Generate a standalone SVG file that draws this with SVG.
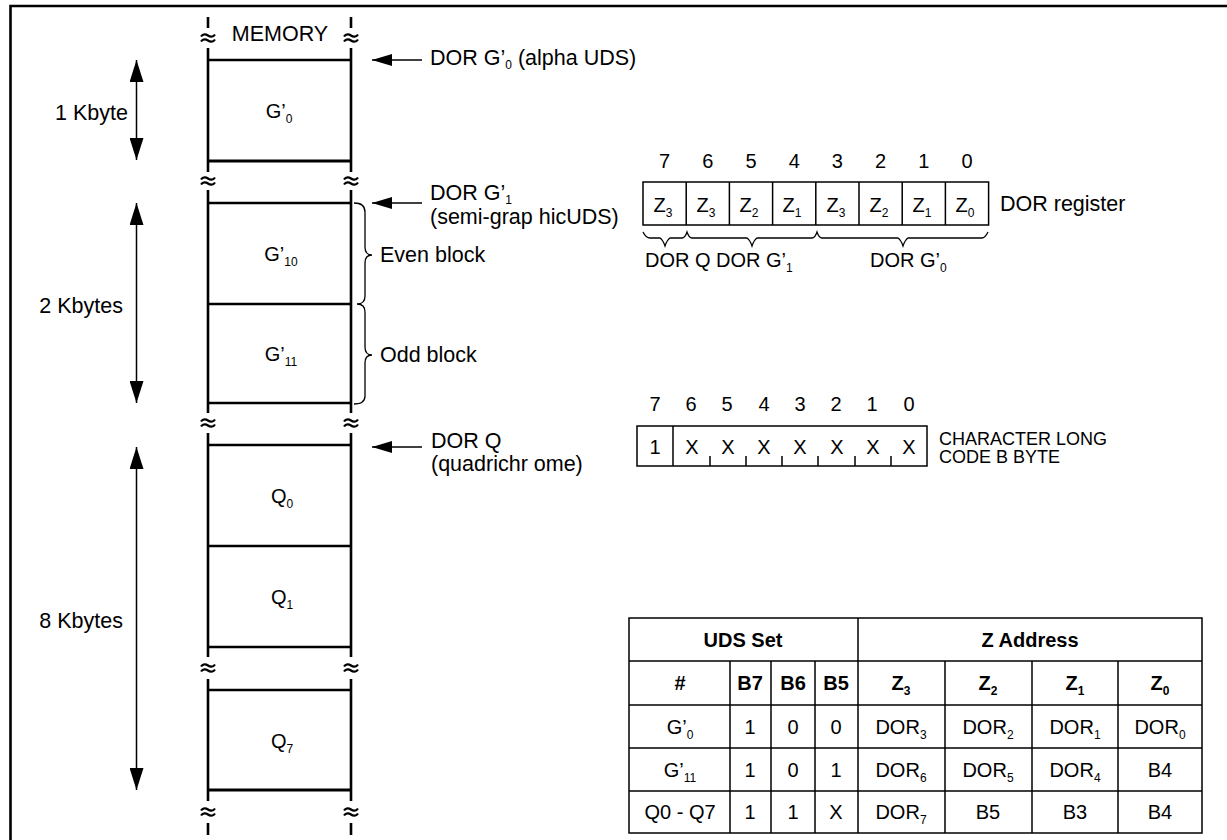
<svg xmlns="http://www.w3.org/2000/svg" xmlns:xlink="http://www.w3.org/1999/xlink" width="1227" height="840" viewBox="0 0 1227 840">
<style>
text{font-family:"Liberation Sans",Arial,sans-serif;font-size:20px;fill:#000}
.L{font-size:21.5px}
.c{text-anchor:middle}
.e{text-anchor:end}
.b{font-weight:bold}
.s{font-size:12px}
.sm{font-size:18px}
.mem{stroke:#000;stroke-width:2.6;fill:none}
.thin{stroke:#000;stroke-width:1.5;fill:none}
.br{stroke:#000;stroke-width:1.3;fill:none}
.tb{stroke:#000;stroke-width:1.5;fill:none}
</style>
<defs>
<g id="brk"><path d="M-7,-1.5 C-5,-4.5 -2,-4 0,-2.5 S5,-0.5 7,-3.5" stroke="#000" stroke-width="2.2" fill="none"/><path d="M-7,3.5 C-5,0.5 -2,1 0,2.5 S5,4.5 7,1.5" stroke="#000" stroke-width="2.2" fill="none"/></g>
<marker id="ah" viewBox="0 0 20 12" refX="20" refY="6" markerWidth="20" markerHeight="12" markerUnits="userSpaceOnUse" orient="auto"><path d="M0,0 L20,6 L0,12 Z" fill="#000"/></marker>
<marker id="ahv" viewBox="0 0 22 14" refX="22" refY="7" markerWidth="22" markerHeight="14" markerUnits="userSpaceOnUse" orient="auto-start-reverse"><path d="M0,0 L22,7 L0,14 Z" fill="#000"/></marker>
</defs>
<rect width="1227" height="840" fill="#fff"/>
<!-- frame -->
<path d="M10.5,840 V6 H1227" stroke="#000" stroke-width="2.6" fill="none"/>

<g id="memory">
<path class="mem" d="M208,17 V28 M208,48 V172 M208,190 V413 M208,433 V657 M208,679 V801 M208,823 V835"/>
<path class="mem" d="M351,17 V28 M351,48 V172 M351,190 V413 M351,433 V657 M351,679 V801 M351,823 V835"/>
<use xlink:href="#brk" x="208" y="38"/><use xlink:href="#brk" x="351" y="38"/>
<use xlink:href="#brk" x="208" y="181"/><use xlink:href="#brk" x="351" y="181"/>
<use xlink:href="#brk" x="208" y="423"/><use xlink:href="#brk" x="351" y="423"/>
<use xlink:href="#brk" x="208" y="668"/><use xlink:href="#brk" x="351" y="668"/>
<use xlink:href="#brk" x="208" y="812"/><use xlink:href="#brk" x="351" y="812"/>
<text class="c L" x="280" y="41">MEMORY</text>
</g>
<g id="g0">
<path class="mem" d="M208,60 H351"/><path d="M208,161 H351" stroke="#000" stroke-width="3.2"/>
<text class="c" x="279" y="118">G’<tspan class="s" dy="5">0</tspan></text>
</g>
<g id="g10">
<path class="mem" d="M208,203 H351 M208,304 H351"/>
<text class="c" x="281" y="261">G’<tspan class="s" dy="5">10</tspan></text>
</g>
<g id="g11">
<path class="mem" d="M208,403 H351"/>
<text class="c" x="281" y="361">G’<tspan class="s" dy="5">11</tspan></text>
</g>
<g id="q0">
<path class="mem" d="M208,445 H351 M208,546 H351"/>
<text class="c" x="282" y="503">Q<tspan class="s" dy="5">0</tspan></text>
</g>
<g id="q1">
<path class="mem" d="M208,647 H351"/>
<text class="c" x="282" y="604">Q<tspan class="s" dy="5">1</tspan></text>
</g>
<g id="q7">
<path class="mem" d="M208,690 H351"/><path d="M208,790 H351" stroke="#000" stroke-width="3.2"/>
<text class="c" x="282" y="748">Q<tspan class="s" dy="5">7</tspan></text>
</g>

<g id="size-labels">
<text class="e L" x="128" y="120">1 Kbyte</text>
<text class="e L" x="123" y="313">2 Kbytes</text>
<text class="e L" x="123" y="628">8 Kbytes</text>
</g>

<g id="pointer-labels">
<text class="L" x="430" y="65">DOR G’<tspan class="s" dy="4">0</tspan><tspan dy="-4"> (alpha UDS)</tspan></text>
<text class="L" x="430" y="200">DOR G’<tspan class="s" dy="4">1</tspan></text>
<text class="L" x="430" y="224">(semi-grap hicUDS)</text>
<text class="L" x="431" y="448">DOR Q</text>
<text class="L" x="431" y="471">(quadrichr ome)</text>
<text class="L" x="380" y="262">Even block</text>
<text class="L" x="380" y="362">Odd block</text>
</g>

<g id="connectors">
<path class="thin" marker-start="url(#ahv)" marker-end="url(#ahv)" d="M136.5,60 V160"/>
<path class="thin" marker-start="url(#ahv)" marker-end="url(#ahv)" d="M136.5,203 V403"/>
<path class="thin" marker-start="url(#ahv)" marker-end="url(#ahv)" d="M136.5,447 V790"/>
<path class="thin" marker-end="url(#ah)" d="M422,60 H372"/>
<path class="thin" marker-end="url(#ah)" d="M422,203 H372"/>
<path class="thin" marker-end="url(#ah)" d="M422,447 H372"/>
<path class="br" d="M354,203 Q365,203 365,212 L365,247 Q365,255 372,255 Q365,255 365,263 L365,296 Q365,304 357,304 Q365,304 365,312 L365,347 Q365,355 372,355 Q365,355 365,363 L365,396 Q365,404 354,404"/>
<path class="br" d="M643,232 Q646,238 650,238 L660,238 Q663,240 665,246 Q667,240 670,238 L682,238 Q685,238 687,232 Q689,238 692,238 L747,238 Q750,240 752,246 Q754,240 757,238 L812,238 Q815,238 817,232 Q819,238 822,238 L898,238 Q901,240 903,246 Q905,240 908,238 L982,238 Q985,238 988,232"/>
</g>

<g id="dor-register">
<rect class="tb" x="643" y="182" width="345.6" height="43"/>
<path class="tb" d="M686.2,182 V225 M729.4,182 V225 M772.6,182 V225 M815.8,182 V225 M859,182 V225 M902.2,182 V225 M945.4,182 V225"/>
<text class="c" x="664.6" y="168">7</text><text class="c" x="707.8" y="168">6</text><text class="c" x="751" y="168">5</text><text class="c" x="794.2" y="168">4</text>
<text class="c" x="837.4" y="168">3</text><text class="c" x="880.6" y="168">2</text><text class="c" x="923.8" y="168">1</text><text class="c" x="967" y="168">0</text>
<text class="c" x="663" y="212">Z<tspan class="s" dy="5">3</tspan></text>
<text class="c" x="706" y="212">Z<tspan class="s" dy="5">3</tspan></text>
<text class="c" x="749" y="212">Z<tspan class="s" dy="5">2</tspan></text>
<text class="c" x="792" y="212">Z<tspan class="s" dy="5">1</tspan></text>
<text class="c" x="836" y="212">Z<tspan class="s" dy="5">3</tspan></text>
<text class="c" x="879" y="212">Z<tspan class="s" dy="5">2</tspan></text>
<text class="c" x="922" y="212">Z<tspan class="s" dy="5">1</tspan></text>
<text class="c" x="965" y="212">Z<tspan class="s" dy="5">0</tspan></text>
<text class="L" x="1000" y="211">DOR register</text>
<text x="645" y="267">DOR Q</text>
<text x="716" y="267">DOR G’<tspan class="s" dy="5">1</tspan></text>
<text x="870" y="267">DOR G’<tspan class="s" dy="5">0</tspan></text>
</g>

<g id="byte-b">
<rect class="tb" x="637" y="426" width="290" height="40"/>
<path class="tb" d="M673,426 V466 M710,456 V466 M746,456 V466 M782,456 V466 M818,456 V466 M855,456 V466 M891,456 V466"/>
<text class="c" x="655" y="411">7</text><text class="c" x="691" y="411">6</text><text class="c" x="727" y="411">5</text><text class="c" x="764" y="411">4</text>
<text class="c" x="800" y="411">3</text><text class="c" x="836" y="411">2</text><text class="c" x="872" y="411">1</text><text class="c" x="909" y="411">0</text>
<text class="c" x="655" y="454">1</text><text class="c" x="692" y="454">X</text><text class="c" x="728" y="454">X</text><text class="c" x="764" y="454">X</text>
<text class="c" x="800" y="454">X</text><text class="c" x="837" y="454">X</text><text class="c" x="873" y="454">X</text><text class="c" x="909" y="454">X</text>
<text class="sm" x="939" y="445">CHARACTER LONG</text>
<text class="sm" x="939" y="463">CODE B BYTE</text>
</g>

<g id="table">
<rect class="tb" x="629" y="618" width="573" height="215"/>
<path class="tb" d="M629,661 H1202 M629,705 H1202 M629,748 H1202 M629,791 H1202"/>
<path class="tb" d="M858,618 V833 M730,661 V833 M771,661 V833 M815,661 V833 M945,661 V833 M1032,661 V833 M1118,661 V833"/>
<text class="c b" x="743" y="647">UDS Set</text>
<text class="c b" x="1030" y="647">Z Address</text>
<text class="c b" x="680" y="690">#</text>
<text class="c b" x="750" y="690">B7</text>
<text class="c b" x="793" y="690">B6</text>
<text class="c b" x="836" y="690">B5</text>
<text class="c b" x="901" y="690">Z<tspan class="s" dy="5">3</tspan></text>
<text class="c b" x="988" y="690">Z<tspan class="s" dy="5">2</tspan></text>
<text class="c b" x="1075" y="690">Z<tspan class="s" dy="5">1</tspan></text>
<text class="c b" x="1160" y="690">Z<tspan class="s" dy="5">0</tspan></text>
<text class="c" x="680" y="734">G’<tspan class="s" dy="5">0</tspan></text>
<text class="c" x="750" y="734">1</text><text class="c" x="793" y="734">0</text><text class="c" x="836" y="734">0</text>
<text class="c" x="901" y="734">DOR<tspan class="s" dy="5">3</tspan></text>
<text class="c" x="988" y="734">DOR<tspan class="s" dy="5">2</tspan></text>
<text class="c" x="1075" y="734">DOR<tspan class="s" dy="5">1</tspan></text>
<text class="c" x="1160" y="734">DOR<tspan class="s" dy="5">0</tspan></text>
<text class="c" x="680" y="777">G’<tspan class="s" dy="5">11</tspan></text>
<text class="c" x="750" y="777">1</text><text class="c" x="793" y="777">0</text><text class="c" x="836" y="777">1</text>
<text class="c" x="901" y="777">DOR<tspan class="s" dy="5">6</tspan></text>
<text class="c" x="988" y="777">DOR<tspan class="s" dy="5">5</tspan></text>
<text class="c" x="1075" y="777">DOR<tspan class="s" dy="5">4</tspan></text>
<text class="c" x="1160" y="777">B4</text>
<text class="c" x="680" y="819">Q0 - Q7</text>
<text class="c" x="750" y="819">1</text><text class="c" x="793" y="819">1</text><text class="c" x="836" y="819">X</text>
<text class="c" x="901" y="819">DOR<tspan class="s" dy="5">7</tspan></text>
<text class="c" x="988" y="819">B5</text>
<text class="c" x="1075" y="819">B3</text>
<text class="c" x="1160" y="819">B4</text>
</g>
</svg>
